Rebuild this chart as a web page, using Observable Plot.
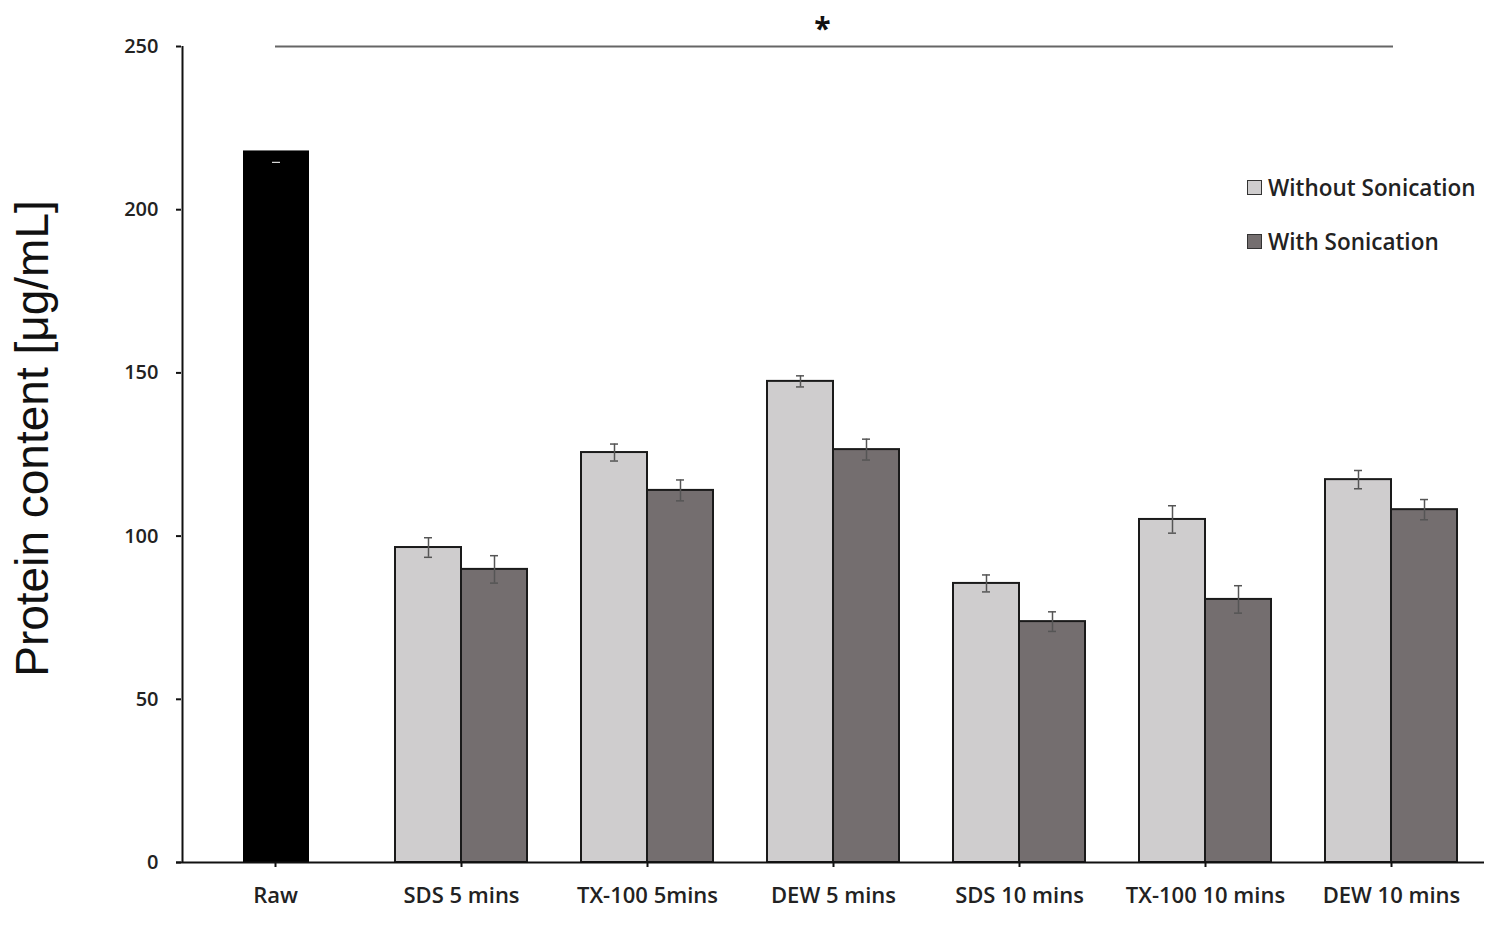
<!DOCTYPE html>
<html>
<head>
<meta charset="utf-8">
<script src="https://cdn.jsdelivr.net/npm/d3@7"></script>
<script src="https://cdn.jsdelivr.net/npm/@observablehq/plot@0.6"></script>
<style>
  html, body { margin: 0; padding: 0; background: #fff; }
  #wrap { position: relative; width: 1501px; height: 931px; }
  #legend { position: absolute; left: 1247px; top: 173px; font-family: "Open Sans", sans-serif; font-weight: 600; font-size: 22.5px; color: #222; }
  #legend .row { display: flex; align-items: center; height: 28px; margin-bottom: 26px; }
  #legend .sw { width: 13px; height: 13px; border: 1px solid #333; margin-right: 6px; }
</style>
</head>
<body>
<div id="wrap"></div>
<script>
const categories = ["Raw", "SDS 5 mins", "TX-100 5mins", "DEW 5 mins", "SDS 10 mins", "TX-100 10 mins", "DEW 10 mins"];
const treatments = ["SDS 5 mins", "TX-100 5mins", "DEW 5 mins", "SDS 10 mins", "TX-100 10 mins", "DEW 10 mins"];
const seriesNames = ["Without Sonication", "With Sonication"];
const rawValue = 218;
const rawError = 3.5;
const withoutValues = [96.5, 125.6, 147.4, 85.5, 105.1, 117.3];
const withoutErrors = [3.0, 2.6, 1.7, 2.6, 4.2, 2.8];
const withValues = [89.8, 114.0, 126.5, 73.8, 80.6, 108.1];
const withErrors = [4.2, 3.2, 3.2, 3.0, 4.2, 3.1];
const yTicks = [0, 50, 100, 150, 200, 250];
const yLabel = "Protein content [\u03bcg/mL]";
const sigLevel = 250;
const sigLabel = "*";

const lightFill = "#cfcdce", darkFill = "#746e6f";

const rawData = [{category: "Raw", value: rawValue, error: rawError}];
const withoutData = treatments.map((c, i) => ({category: c, value: withoutValues[i], error: withoutErrors[i]}));
const withData = treatments.map((c, i) => ({category: c, value: withValues[i], error: withErrors[i]}));
const sigData = [{from: categories[0], to: categories[categories.length - 1], mid: categories[3], y: sigLevel, label: sigLabel}];

const lo = d => d.value - d.error, hi = d => d.value + d.error;

function errorMarks(data, dx, color) {
  return [
    Plot.ruleX(data, {x: "category", y1: lo, y2: hi, dx, stroke: color, strokeWidth: 1.5}),
    Plot.tickY(data, {x: "category", y: hi, dx, stroke: color, strokeWidth: 1.5, insetLeft: 89, insetRight: 89}),
    Plot.tickY(data, {x: "category", y: lo, dx, stroke: color, strokeWidth: 1.5, insetLeft: 89, insetRight: 89})
  ];
}

const chart = Plot.plot({
  width: 1501,
  height: 931,
  marginLeft: 181,
  marginRight: 17,
  marginTop: 46,
  marginBottom: 69,
  style: {fontFamily: "Open Sans, sans-serif", background: "#fff", color: "#222"},
  x: {domain: categories, padding: 0, label: null, axis: null},
  y: {domain: [0, 250], axis: null},
  marks: [
    Plot.barY(rawData, {x: "category", y: "value", fill: "#000", insetLeft: 61, insetRight: 59}),
    Plot.barY(withoutData, {x: "category", y: "value", fill: lightFill, stroke: "#1a1a1a", strokeWidth: 2, insetLeft: 27, insetRight: 93}),
    Plot.barY(withData, {x: "category", y: "value", fill: darkFill, stroke: "#1a1a1a", strokeWidth: 2, insetLeft: 93, insetRight: 27}),
    Plot.tickY(rawData, {x: "category", y: lo, stroke: "#ddd", strokeWidth: 1.2, insetLeft: 89, insetRight: 89, dx: 1}),
    ...errorMarks(withoutData, -33, "#555"),
    ...errorMarks(withData, 33, "#555"),
    Plot.axisY({ticks: yTicks, tickSize: 5, tickPadding: 18, fontSize: 20, fontWeight: 600, label: null, stroke: "#111", strokeWidth: 2}),
    Plot.axisX({tickSize: 5, tickPadding: 20, fontSize: 22, fontWeight: 600, label: null, stroke: "#111", strokeWidth: 2}),
    Plot.ruleY([0], {stroke: "#111", strokeWidth: 2, insetLeft: -5}),
    Plot.ruleX(rawData, {x: "category", dx: -93, y1: 0, y2: 250, stroke: "#111", strokeWidth: 2}),
    Plot.ruleY(sigData, {y: "y", x1: "from", x2: "to", insetLeft: 93, insetRight: 91, stroke: "#666", strokeWidth: 2}),
    Plot.text(sigData, {x: "mid", y: "y", text: "label", dx: -11, dy: -17, fontSize: 30, fontWeight: 700, fill: "#111"}),
    Plot.text([yLabel], {text: d => d, frameAnchor: "left", textAnchor: "middle", rotate: -90, dx: -148, dy: -16, fontSize: 46, fontFamily: "Liberation Sans, Arial, sans-serif", fill: "#111"})
  ]
});

const wrap = document.getElementById("wrap");
wrap.appendChild(chart);

const legend = document.createElement("div");
legend.id = "legend";
[[seriesNames[0], lightFill], [seriesNames[1], darkFill]].forEach(([name, col]) => {
  const row = document.createElement("div");
  row.className = "row";
  const sw = document.createElement("span");
  sw.className = "sw";
  sw.style.background = col;
  const t = document.createElement("span");
  t.textContent = name;
  row.appendChild(sw);
  row.appendChild(t);
  legend.appendChild(row);
});
wrap.appendChild(legend);
</script>
</body>
</html>
